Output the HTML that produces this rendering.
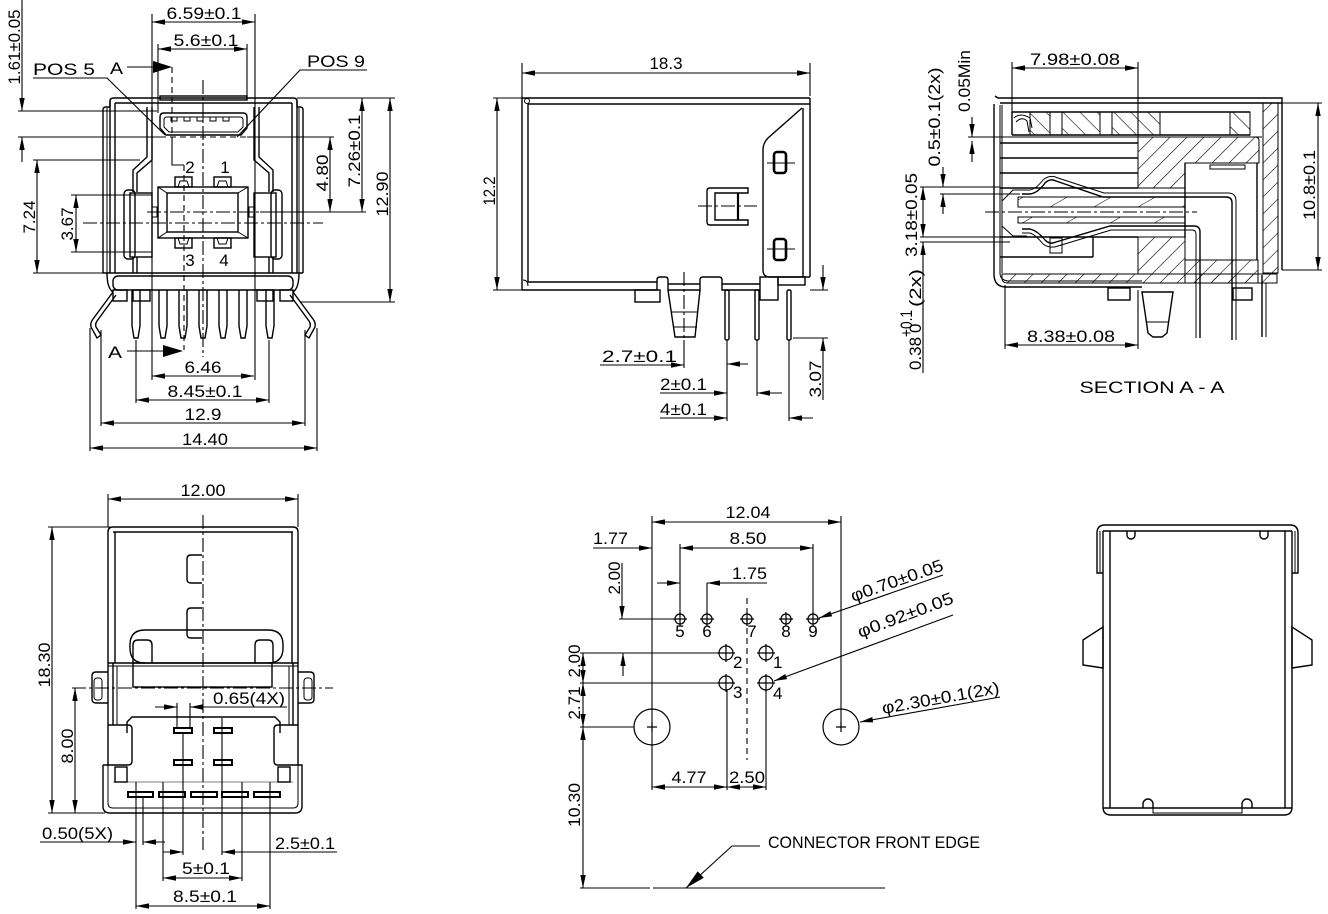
<!DOCTYPE html>
<html><head><meta charset="utf-8"><style>
html,body{margin:0;padding:0;background:#fff;}
svg{display:block;}
text{font-family:"Liberation Sans",Arial,sans-serif;fill:#000;stroke:none;font-size:17px;}
.dd{marker-start:url(#m);marker-end:url(#m);}
.de{marker-end:url(#m);}
.cl{stroke-dasharray:14 3 3 3;}
.ds{stroke-dasharray:6 4;}
.t{stroke-width:1.1;}
</style></head><body>
<svg width="1328" height="914" viewBox="0 0 1328 914" xmlns="http://www.w3.org/2000/svg">
<defs>
<marker id="m" viewBox="0 0 12 5" refX="12" refY="2.5" markerWidth="13" markerHeight="5.5" orient="auto-start-reverse" markerUnits="userSpaceOnUse"><path d="M0,0L12,2.5L0,5z" fill="#000" stroke="none"/></marker>
<marker id="mb" viewBox="0 0 20 9" refX="20" refY="4.5" markerWidth="20" markerHeight="9" orient="auto" markerUnits="userSpaceOnUse"><path d="M0,0L20,4.5L0,9z" fill="#000" stroke="none"/></marker>
<pattern id="hf" patternUnits="userSpaceOnUse" width="12" height="12" patternTransform="rotate(45)"><line x1="0" y1="0" x2="0" y2="12" stroke="#000" stroke-width="1.2"/></pattern>
<pattern id="hb" patternUnits="userSpaceOnUse" width="12" height="12" patternTransform="rotate(-45)"><line x1="0" y1="0" x2="0" y2="12" stroke="#000" stroke-width="1.2"/></pattern>
<pattern id="hs" patternUnits="userSpaceOnUse" width="22" height="22" patternTransform="rotate(60)"><line x1="0" y1="0" x2="0" y2="22" stroke="#000" stroke-width="1"/></pattern>
</defs>
<rect width="1328" height="914" fill="#fff"/>

<g fill="none" stroke="#000" stroke-width="1.4">

<!-- ================= VIEW 1 : FRONT ================= -->
<g class="t">
<line x1="152" y1="14" x2="152" y2="380"/>
<line x1="255" y1="14" x2="255" y2="380"/>
<line class="dd" x1="152" y1="22" x2="255" y2="22"/>
<line x1="158" y1="44" x2="158" y2="113"/>
<line x1="247" y1="44" x2="247" y2="100"/>
<line class="dd" x1="158" y1="49" x2="247" y2="49"/>
<polyline points="33,78 107,78 165,135"/>
<polyline points="367,70 300,70 237,137"/>
<line x1="127" y1="67" x2="155" y2="67"/>
<line class="ds" x1="172" y1="67" x2="172" y2="137"/>
<polyline points="172,137 172,165 184,165"/>
<line class="ds" x1="184" y1="165" x2="184" y2="350"/>
<line x1="22" y1="0" x2="22" y2="111" class="de"/>
<line x1="18" y1="111" x2="157" y2="111"/>
<line x1="18" y1="137" x2="160" y2="137"/>
<line class="ds" x1="160" y1="137" x2="247" y2="137"/>
<line x1="247" y1="137" x2="334" y2="137"/>
<line class="de" x1="22" y1="162" x2="22" y2="137"/>
<line x1="33" y1="160" x2="140" y2="160"/>
<line x1="33" y1="273" x2="103" y2="273"/>
<line class="dd" x1="37" y1="160" x2="37" y2="273"/>
<line x1="71" y1="195" x2="152" y2="195"/>
<line x1="71" y1="252" x2="152" y2="252"/>
<line class="dd" x1="76" y1="195" x2="76" y2="252"/>
<line class="cl" x1="83" y1="223" x2="323" y2="223"/>
<line class="cl" x1="147" y1="212" x2="260" y2="212"/>
<line x1="260" y1="212" x2="366" y2="212"/>
<line class="dd" x1="330" y1="137" x2="330" y2="212"/>
<line x1="297" y1="98" x2="395" y2="98"/>
<line class="dd" x1="362" y1="98" x2="362" y2="212"/>
<line x1="300" y1="302" x2="395" y2="302"/>
<line class="dd" x1="390" y1="98" x2="390" y2="302"/>
<line class="cl" x1="203" y1="80" x2="203" y2="357"/>
<line x1="127" y1="351" x2="165" y2="351"/>
<line x1="136" y1="340" x2="136" y2="403"/>
<line x1="269" y1="340" x2="269" y2="403"/>
<line x1="101" y1="330" x2="101" y2="426"/>
<line x1="305" y1="330" x2="305" y2="426"/>
<line x1="90" y1="328" x2="90" y2="451"/>
<line x1="317" y1="328" x2="317" y2="451"/>
<line class="dd" x1="152" y1="376" x2="254" y2="376"/>
<line class="dd" x1="136" y1="400" x2="269" y2="400"/>
<line class="dd" x1="101" y1="423" x2="305" y2="423"/>
<line class="dd" x1="90" y1="448" x2="317" y2="448"/>
</g>
<polygon points="153,61 172,67 153,73" fill="#000" stroke="none"/>
<polygon points="163,345 183,351 163,357" fill="#000" stroke="none"/>

<path d="M110,107 V101 Q110,98 114,98 H293 Q297,98 297,101 V107"/>
<line x1="115" y1="103" x2="292" y2="103"/>
<path d="M103,273 V110 Q103,107 106,107 H110"/>
<path d="M303,273 V110 Q303,107 300,107 H297"/>
<line x1="107" y1="108" x2="107" y2="273" stroke-width="1"/>
<line x1="299" y1="108" x2="299" y2="273" stroke-width="1"/>
<line x1="110" y1="101" x2="110" y2="273"/>
<line x1="115" y1="103" x2="115" y2="273"/>
<line x1="297" y1="101" x2="297" y2="273"/>
<line x1="292" y1="103" x2="292" y2="273"/>
<polyline points="147,107 147,157 133,170 133,192"/>
<polyline points="152,107 152,160 137,173 137,192"/>
<polyline points="259,107 259,157 273,170 273,192"/>
<polyline points="254,107 254,160 269,173 269,192"/>
<line x1="133" y1="257" x2="133" y2="273"/>
<line x1="137" y1="257" x2="137" y2="273"/>
<line x1="273" y1="257" x2="273" y2="273"/>
<line x1="269" y1="257" x2="269" y2="273"/>
<rect x="160" y="96" width="87" height="4"/>
<path d="M164,113 H243 Q247,113 247,117 V128 L241,135 H166 L160,128 V117 Q160,113 164,113 Z"/>
<path d="M167,117 H240 Q243,117 243,120 V127 L238,132 H169 L164,127 V120 Q164,117 167,117 Z" stroke-width="1"/>
<path d="M171,117 V121 H177 V117 M184,117 V121 H190 V117 M197,117 V121 H203 V117 M210,117 V121 H216 V117 M223,117 V121 H229 V117" stroke-width="1"/>
<rect x="158" y="187" width="90" height="51"/>
<rect x="167" y="193" width="71" height="39"/>
<path d="M158,187 L167,193 M248,187 L238,193 M158,238 L167,232 M248,238 L238,232" stroke-width="1"/>
<rect x="152" y="207" width="5" height="10" stroke-width="1"/>
<rect x="249" y="207" width="5" height="10" stroke-width="1"/>
<rect x="175" y="177" width="17" height="10"/>
<rect x="214" y="177" width="17" height="10"/>
<rect x="175" y="238" width="17" height="10"/>
<rect x="214" y="238" width="17" height="10"/>
<path d="M178,187 L180,181 H187 L189,187 M217,187 L219,181 H226 L228,187 M178,238 L180,244 H187 L189,238 M217,238 L219,244 H226 L228,238" stroke-width="1"/>
<rect x="124" y="190" width="11" height="69" rx="4"/>
<rect x="130" y="193" width="22" height="64"/>
<rect x="271" y="190" width="11" height="69" rx="4"/>
<rect x="254" y="193" width="22" height="64"/>
<line x1="103" y1="273" x2="303" y2="273"/>
<rect x="113" y="276" width="180" height="14" rx="5"/>
<path d="M107,273 Q107,288 113,292"/>
<path d="M299,273 Q299,288 293,292"/>
<rect x="113" y="290" width="14" height="11"/>
<rect x="133" y="290" width="17" height="11"/>
<rect x="257" y="290" width="16" height="11"/>
<rect x="280" y="290" width="13" height="11"/>
<path d="M132,290 V326 L134,338 H138 L140,326 V290"/>
<path d="M159,290 V326 L161,338 H165 L167,326 V290"/>
<path d="M179,290 V326 L181,338 H185 L187,326 V290"/>
<path d="M199,290 V326 L201,338 H205 L207,326 V290"/>
<path d="M219,290 V326 L221,338 H225 L227,326 V290"/>
<path d="M239,290 V326 L241,338 H245 L247,326 V290"/>
<path d="M266,290 V326 L268,338 H272 L274,326 V290"/>
<path d="M113,292 L93,319 Q90,323 91,327 L97,338 L101,335 L96,327 Q95,324 97,321 L116,295"/>
<path d="M293,292 L313,319 Q316,323 315,327 L309,338 L305,335 L310,327 Q311,324 309,321 L290,295"/>
<text x="204" y="19" text-anchor="middle" textLength="75" lengthAdjust="spacingAndGlyphs">6.59±0.1</text>
<text x="206" y="46" text-anchor="middle" textLength="65" lengthAdjust="spacingAndGlyphs">5.6±0.1</text>
<text x="33" y="75" textLength="62" lengthAdjust="spacingAndGlyphs">POS 5</text>
<text x="110" y="74" textLength="13" lengthAdjust="spacingAndGlyphs" font-size="19">A</text>
<text x="307" y="67" textLength="58" lengthAdjust="spacingAndGlyphs">POS 9</text>
<text transform="translate(20,47) rotate(-90)" text-anchor="middle" textLength="75" lengthAdjust="spacingAndGlyphs">1.61±0.05</text>
<text transform="translate(35,217) rotate(-90)" text-anchor="middle" textLength="33" lengthAdjust="spacingAndGlyphs">7.24</text>
<text transform="translate(73,224) rotate(-90)" text-anchor="middle" textLength="33" lengthAdjust="spacingAndGlyphs">3.67</text>
<text transform="translate(328,173) rotate(-90)" text-anchor="middle" textLength="37" lengthAdjust="spacingAndGlyphs">4.80</text>
<text transform="translate(360,151) rotate(-90)" text-anchor="middle" textLength="73" lengthAdjust="spacingAndGlyphs">7.26±0.1</text>
<text transform="translate(388,194) rotate(-90)" text-anchor="middle" textLength="45" lengthAdjust="spacingAndGlyphs">12.90</text>
<text x="190" y="173" text-anchor="middle" font-size="19">2</text>
<text x="225" y="173" text-anchor="middle" font-size="19">1</text>
<text x="190" y="266" text-anchor="middle" font-size="19">3</text>
<text x="224" y="266" text-anchor="middle" font-size="19">4</text>
<text x="108" y="358" textLength="14" lengthAdjust="spacingAndGlyphs" font-size="19">A</text>
<text x="203" y="373" text-anchor="middle" textLength="37" lengthAdjust="spacingAndGlyphs">6.46</text>
<text x="205" y="397" text-anchor="middle" textLength="75" lengthAdjust="spacingAndGlyphs">8.45±0.1</text>
<text x="203" y="420" text-anchor="middle" textLength="37" lengthAdjust="spacingAndGlyphs">12.9</text>
<text x="205" y="445" text-anchor="middle" textLength="46" lengthAdjust="spacingAndGlyphs">14.40</text>

<!-- ================= VIEW 2 : SIDE ================= -->
<g class="t">
<line x1="522" y1="63" x2="522" y2="98"/>
<line x1="810" y1="63" x2="810" y2="96"/>
<line class="dd" x1="522" y1="73" x2="810" y2="73"/>
<line x1="493" y1="98" x2="522" y2="98"/>
<line x1="493" y1="290" x2="528" y2="290"/>
<line class="dd" x1="497" y1="98" x2="497" y2="290"/>
<line class="cl" x1="684" y1="272" x2="684" y2="340"/>
<line x1="684" y1="340" x2="684" y2="368"/>
<line class="de" x1="600" y1="365" x2="684" y2="365"/>
<line class="de" x1="748" y1="364" x2="727" y2="364"/>
<line class="de" x1="660" y1="393" x2="727" y2="393"/>
<line class="de" x1="782" y1="393" x2="757" y2="393"/>
<line class="de" x1="660" y1="418" x2="727" y2="418"/>
<line class="de" x1="813" y1="418" x2="789" y2="418"/>
<line x1="727" y1="340" x2="727" y2="421"/>
<line x1="757" y1="340" x2="757" y2="396"/>
<line x1="789" y1="340" x2="789" y2="421"/>
<line class="de" x1="823" y1="265" x2="823" y2="290"/>
<line class="de" x1="823" y1="400" x2="823" y2="338"/>
<line x1="810" y1="290" x2="828" y2="290"/>
<line x1="793" y1="338" x2="828" y2="338"/>
<line class="cl" x1="698" y1="206" x2="757" y2="206"/>
</g>
<line x1="522" y1="98" x2="810" y2="98"/>
<line x1="528" y1="104" x2="810" y2="104"/>
<line x1="522" y1="98" x2="522" y2="290"/>
<line x1="528" y1="104" x2="528" y2="282"/>
<circle cx="527" cy="101" r="2.5" stroke-width="1"/>
<path d="M523,280 Q528,280 528,286" stroke-width="1"/>
<path d="M522,290 H657 V280 Q657,277 660,277 H665 Q668,277 668,280 V290 H700 V280 Q700,277 703,277 H719 Q722,277 722,280 V290 H760"/>
<line x1="528" y1="282" x2="657" y2="282"/>
<line x1="668" y1="284" x2="700" y2="284"/>
<line x1="722" y1="284" x2="760" y2="284"/>
<rect x="760" y="277" width="18" height="23"/>
<rect x="778" y="277" width="27" height="8"/>
<rect x="635" y="290" width="25" height="12"/>
<path d="M668,290 L675,337 H695 L700,290"/>
<line x1="671" y1="312" x2="698" y2="312" stroke-width="1"/>
<line x1="673" y1="327" x2="697" y2="327" stroke-width="1"/>
<rect x="725" y="290" width="4" height="50" rx="1.5"/>
<rect x="755" y="290" width="4" height="50" rx="1.5"/>
<rect x="787" y="290" width="4" height="50" rx="1.5"/>
<line x1="810" y1="98" x2="810" y2="277"/>
<line x1="803" y1="108" x2="803" y2="277"/>
<path d="M802,108 L768,138 Q763,143 763,150 V270 Q763,277 770,277 H810"/>
<rect x="774" y="152" width="12" height="21" rx="3" stroke-width="2.6"/>
<line x1="767" y1="163" x2="795" y2="163" stroke-width="1"/>
<rect x="774" y="239" width="12" height="21" rx="3" stroke-width="2.6"/>
<line x1="767" y1="249" x2="795" y2="249" stroke-width="1"/>
<path d="M748,188 H710 Q707,188 707,191 V222 Q707,225 710,225 H748 V220 H715 V193 H748 Z"/>
<line x1="738" y1="193" x2="738" y2="220" stroke-width="2.2"/>
<text x="666" y="69" text-anchor="middle" textLength="33" lengthAdjust="spacingAndGlyphs">18.3</text>
<text transform="translate(495,191) rotate(-90)" text-anchor="middle" textLength="29" lengthAdjust="spacingAndGlyphs">12.2</text>
<text x="602" y="362" textLength="75" lengthAdjust="spacingAndGlyphs">2.7±0.1</text>
<text x="660" y="390" textLength="47" lengthAdjust="spacingAndGlyphs">2±0.1</text>
<text x="660" y="415" textLength="47" lengthAdjust="spacingAndGlyphs">4±0.1</text>
<text transform="translate(821,379) rotate(-90)" text-anchor="middle" textLength="37" lengthAdjust="spacingAndGlyphs">3.07</text>

<!-- ================= VIEW 3 : SECTION A-A ================= -->
<path d="M1030,112 H1050 V135 H1030 Z M1062,112 H1100 V135 H1062 Z M1112,112 H1160 V135 H1112 Z M1230,112 H1250 V135 H1230 Z" fill="url(#hb)" stroke-width="1"/>
<path d="M1138,137 H1255 Q1259,137 1259,141 V163 H1185 V188 H1138 Z" fill="url(#hf)" stroke-width="1"/>
<rect x="1138" y="237" width="47" height="37" fill="url(#hf)" stroke-width="1"/>
<rect x="1185" y="260" width="73" height="23" fill="url(#hf)" stroke-width="1"/>
<path d="M1002,274 H1277 V283 H1008 Q1002,283 1002,278 Z" fill="url(#hf)" stroke-width="1"/>
<rect x="1263" y="103" width="15" height="170" fill="url(#hf)" stroke-width="1"/>
<rect x="1018" y="197" width="167" height="10" fill="url(#hs)" stroke-width="1"/>
<rect x="1018" y="217" width="167" height="6" fill="url(#hs)" stroke-width="1"/>
<line class="cl" x1="985" y1="212" x2="1197" y2="212" stroke-width="1"/>
<path d="M995,96 L998,98 H1282 V270"/>
<line x1="1000" y1="103" x2="1282" y2="103"/>
<path d="M994,104 V274 Q994,287 1006,287 H1142"/>
<path d="M1000,105 V273 Q1000,280 1008,281 H1142" stroke-width="1"/>
<line x1="1002" y1="105" x2="1002" y2="273" stroke-width="1"/>
<line x1="1012" y1="112" x2="1250" y2="112"/>
<line x1="1012" y1="135" x2="1250" y2="135"/>
<line x1="1012" y1="112" x2="1012" y2="135"/>
<path d="M1014,118 Q1020,112 1030,118 L1032,128 M1016,122 Q1022,116 1027,121 L1029,132" stroke-width="1"/>
<line x1="1000" y1="143" x2="1138" y2="143"/>
<line x1="1000" y1="158" x2="1138" y2="158"/>
<line x1="1000" y1="173" x2="1138" y2="173"/>
<line x1="1000" y1="188" x2="1138" y2="188"/>
<path d="M1185,163 V238 M1257,163 V260"/>
<rect x="1210" y="165" width="35" height="4" stroke-width="1"/>
<line x1="1000" y1="237" x2="1138" y2="237"/>
<line x1="1000" y1="257" x2="1093" y2="257"/>
<line x1="1093" y1="237" x2="1093" y2="257"/>
<rect x="1050" y="238" width="12" height="15" stroke-width="1"/>
<polyline points="1002,201 1013,190 1027,190" stroke-width="1"/>
<polyline points="1002,226 1013,236 1027,236" stroke-width="1"/>
<path d="M1022,194 H1030 Q1038,193 1045,183 Q1050,178 1056,181 L1103,197 H1226 Q1232,197 1232,203 V340"/>
<path d="M1022,190 H1030 Q1036,189 1043,180 Q1050,174 1058,178 L1104,193 H1228 Q1236,193 1236,201 V340" stroke-width="1"/>
<path d="M1022,229 H1030 Q1038,231 1045,240 Q1050,245 1056,242 L1110,226 H1194 Q1200,226 1200,232 V338"/>
<path d="M1022,233 H1030 Q1036,235 1043,244 Q1050,249 1058,246 L1111,230 H1192 Q1196,230 1196,234 V338" stroke-width="1"/>
<line x1="1262" y1="275" x2="1262" y2="337"/>
<line x1="1266" y1="283" x2="1266" y2="337" stroke-width="1"/>
<rect x="1108" y="288" width="22" height="12"/>
<path d="M1142,292 H1173 L1167,333 L1162,337 H1153 L1148,333 Z"/>
<line x1="1146" y1="322" x2="1169" y2="322" stroke-width="1"/>
<rect x="1233" y="288" width="19" height="12"/>
<g class="t">
<line x1="1012" y1="62" x2="1012" y2="113"/>
<line x1="1138" y1="62" x2="1138" y2="137"/>
<line class="dd" x1="1012" y1="68" x2="1138" y2="68"/>
<line class="de" x1="972" y1="117" x2="972" y2="137"/>
<line class="de" x1="972" y1="162" x2="972" y2="141"/>
<line x1="968" y1="137" x2="1262" y2="137"/>
<line class="de" x1="943" y1="167" x2="943" y2="187"/>
<line class="de" x1="943" y1="214" x2="943" y2="194"/>
<line x1="920" y1="187" x2="1000" y2="187"/>
<line x1="940" y1="194" x2="1020" y2="194"/>
<line class="dd" x1="923" y1="187" x2="923" y2="237"/>
<line x1="920" y1="237" x2="1010" y2="237"/>
<line x1="920" y1="242" x2="1010" y2="242"/>
<line class="de" x1="923" y1="373" x2="923" y2="242"/>
<line x1="1282" y1="103" x2="1322" y2="103"/>
<line x1="1282" y1="270" x2="1322" y2="270"/>
<line class="dd" x1="1318" y1="103" x2="1318" y2="270"/>
<line x1="1005" y1="285" x2="1005" y2="349"/>
<line x1="1138" y1="290" x2="1138" y2="349"/>
<line class="dd" x1="1005" y1="345" x2="1138" y2="345"/>
</g>
<text x="1075" y="65" text-anchor="middle" textLength="90" lengthAdjust="spacingAndGlyphs">7.98±0.08</text>
<text transform="translate(970,81) rotate(-90)" text-anchor="middle" textLength="62" lengthAdjust="spacingAndGlyphs">0.05Min</text>
<text transform="translate(940,117) rotate(-90)" text-anchor="middle" textLength="99" lengthAdjust="spacingAndGlyphs">0.5±0.1(2x)</text>
<text transform="translate(917,215) rotate(-90)" text-anchor="middle" textLength="84" lengthAdjust="spacingAndGlyphs">3.18±0.05</text>
<g transform="translate(921,370) rotate(-90)">
<text x="0" y="0" textLength="33" lengthAdjust="spacingAndGlyphs">0.38</text>
<text x="33" y="-9" font-size="13" textLength="27" lengthAdjust="spacingAndGlyphs">+0.1</text>
<text x="37" y="0" font-size="13">0</text>
<text x="63" y="0" textLength="38" lengthAdjust="spacingAndGlyphs">(2x)</text>
</g>
<text transform="translate(1315,185) rotate(-90)" text-anchor="middle" textLength="70" lengthAdjust="spacingAndGlyphs">10.8±0.1</text>
<text x="1071" y="342" text-anchor="middle" textLength="88" lengthAdjust="spacingAndGlyphs">8.38±0.08</text>
<text x="1152" y="393" text-anchor="middle" font-size="20" textLength="145" lengthAdjust="spacingAndGlyphs">SECTION  A - A</text>

<!-- ================= VIEW 4 : TOP ================= -->
<g class="t">
<line x1="108" y1="494" x2="108" y2="527"/>
<line x1="298" y1="494" x2="298" y2="527"/>
<line class="dd" x1="108" y1="499" x2="298" y2="499"/>
<line x1="48" y1="527" x2="110" y2="527"/>
<line x1="48" y1="813" x2="105" y2="813"/>
<line class="dd" x1="52" y1="527" x2="52" y2="813"/>
<line class="cl" x1="72" y1="688" x2="333" y2="688"/>
<line class="dd" x1="75" y1="688" x2="75" y2="813"/>
<line class="cl" x1="203" y1="515" x2="203" y2="850"/>
<line x1="177" y1="703" x2="177" y2="728"/>
<line x1="190" y1="703" x2="190" y2="728"/>
<line class="de" x1="287" y1="707" x2="190" y2="707"/>
<line class="de" x1="155" y1="707" x2="177" y2="707"/>
<line x1="183" y1="733" x2="183" y2="855"/>
<line x1="222" y1="718" x2="222" y2="855"/>
<line x1="163" y1="782" x2="163" y2="881"/>
<line x1="242" y1="782" x2="242" y2="881"/>
<line x1="136" y1="782" x2="136" y2="909"/>
<line x1="270" y1="782" x2="270" y2="909"/>
<line x1="143" y1="797" x2="143" y2="845"/>
<line class="de" x1="40" y1="842" x2="136" y2="842"/>
<line class="de" x1="165" y1="842" x2="143" y2="842"/>
<line class="de" x1="337" y1="852" x2="222" y2="852"/>
<line class="de" x1="163" y1="852" x2="183" y2="852"/>
<line class="dd" x1="163" y1="878" x2="242" y2="878"/>
<line class="dd" x1="136" y1="906" x2="270" y2="906"/>
</g>
<path d="M108,663 V532 Q108,527 113,527 H293 Q298,527 298,532 V663"/>
<line x1="113" y1="532" x2="293" y2="532"/>
<line x1="115" y1="532" x2="115" y2="663"/>
<line x1="292" y1="532" x2="292" y2="663"/>
<path d="M202,555 H191 Q187,555 187,559 V579 Q187,583 191,583 H202"/>
<path d="M202,608 H191 Q187,608 187,612 V634 Q187,638 191,638 H202"/>
<path d="M145,663 Q130,663 130,648 V645 Q130,630 145,630 H268 Q283,630 283,645 V648 Q283,663 268,663"/>
<path d="M133,663 V645 Q133,640 138,640 H147 Q152,640 152,645 V663"/>
<path d="M255,663 V645 Q255,640 260,640 H268 Q273,640 273,645 V663"/>
<line x1="108" y1="663" x2="298" y2="663"/>
<line x1="108" y1="666" x2="298" y2="666" stroke-width="1"/>
<rect x="133" y="663" width="139" height="24"/>
<line x1="108" y1="663" x2="108" y2="725"/>
<line x1="113" y1="663" x2="113" y2="725"/>
<line x1="117" y1="666" x2="117" y2="725" stroke-width="1"/>
<line x1="298" y1="663" x2="298" y2="725"/>
<line x1="293" y1="663" x2="293" y2="725"/>
<line x1="289" y1="666" x2="289" y2="725" stroke-width="1"/>
<path d="M108,672 H96 Q92,672 92,676 V699 Q92,703 96,703 H108"/>
<rect x="94" y="678" width="8" height="22" rx="3" stroke-width="1"/>
<path d="M298,672 H310 Q314,672 314,676 V699 Q314,703 310,703 H298"/>
<rect x="304" y="678" width="8" height="22" rx="3" stroke-width="1"/>
<path d="M127,733 V722 L132,717 H275 L280,722 V733"/>
<path d="M108,725 H128 Q132,725 132,729 V761 Q132,765 128,765 H108"/>
<path d="M298,725 H278 Q274,725 274,729 V761 Q274,765 278,765 H298"/>
<path d="M103,765 V806 Q103,813 110,813 H295 Q302,813 302,806 V765 H298"/>
<path d="M103,765 H108 V725"/>
<path d="M298,725 V765"/>
<path d="M108,765 V803 Q108,808 113,808 H293 Q298,808 298,803 V765" stroke-width="1"/>
<rect x="115" y="767" width="12" height="15"/>
<rect x="278" y="767" width="12" height="15"/>
<line x1="113" y1="782" x2="293" y2="782" stroke-width="0.6"/>
<g stroke-width="2">
<rect x="174" y="728" width="18" height="5"/>
<rect x="214" y="728" width="18" height="5"/>
<rect x="174" y="760" width="18" height="5"/>
<rect x="214" y="760" width="18" height="5"/>
<rect x="128" y="792" width="25" height="5"/>
<rect x="159" y="792" width="26" height="5"/>
<rect x="191" y="792" width="26" height="5"/>
<rect x="222" y="792" width="26" height="5"/>
<rect x="254" y="792" width="26" height="5"/>
</g>
<text x="203" y="496" text-anchor="middle" textLength="45" lengthAdjust="spacingAndGlyphs">12.00</text>
<text transform="translate(50,665) rotate(-90)" text-anchor="middle" textLength="45" lengthAdjust="spacingAndGlyphs">18.30</text>
<text transform="translate(73,746) rotate(-90)" text-anchor="middle" textLength="35" lengthAdjust="spacingAndGlyphs">8.00</text>
<text x="213" y="704" textLength="72" lengthAdjust="spacingAndGlyphs">0.65(4X)</text>
<text x="42" y="839" textLength="71" lengthAdjust="spacingAndGlyphs">0.50(5X)</text>
<text x="275" y="849" textLength="60" lengthAdjust="spacingAndGlyphs">2.5±0.1</text>
<text x="206" y="874" text-anchor="middle" textLength="48" lengthAdjust="spacingAndGlyphs">5±0.1</text>
<text x="205" y="902" text-anchor="middle" textLength="64" lengthAdjust="spacingAndGlyphs">8.5±0.1</text>

<!-- ================= VIEW 5 : PCB LAYOUT ================= -->
<g class="t">
<line x1="652" y1="516" x2="652" y2="790"/>
<line x1="841" y1="516" x2="841" y2="727"/>
<line class="dd" x1="652" y1="522" x2="841" y2="522"/>
<line class="de" x1="593" y1="548" x2="652" y2="548"/>
<line x1="680" y1="544" x2="680" y2="614"/>
<line x1="813" y1="544" x2="813" y2="614"/>
<line class="dd" x1="680" y1="548" x2="813" y2="548"/>
<line x1="707" y1="583" x2="707" y2="614"/>
<line class="de" x1="767" y1="583" x2="707" y2="583"/>
<line class="de" x1="657" y1="583" x2="680" y2="583"/>
<line class="de" x1="622" y1="563" x2="622" y2="619"/>
<line x1="619" y1="619" x2="675" y2="619"/>
<line class="ds" x1="747" y1="598" x2="747" y2="760"/>
<line x1="580" y1="653" x2="719" y2="653"/>
<line x1="580" y1="683" x2="719" y2="683"/>
<line x1="580" y1="727" x2="634" y2="727"/>
<line class="dd" x1="583" y1="653" x2="583" y2="683"/>
<line class="dd" x1="583" y1="683" x2="583" y2="727"/>
<line class="dd" x1="583" y1="727" x2="583" y2="888"/>
<line class="de" x1="623" y1="676" x2="623" y2="653"/>
<line x1="727" y1="690" x2="727" y2="790"/>
<line x1="766" y1="690" x2="766" y2="790"/>
<line class="dd" x1="652" y1="787" x2="727" y2="787"/>
<line class="dd" x1="727" y1="787" x2="766" y2="787"/>
<line x1="580" y1="888" x2="650" y2="888"/>
<line x1="653" y1="888" x2="885" y2="888"/>
<polyline points="760,846 732,846 686,888" style="marker-end:url(#mb)"/>
<line class="de" x1="943" y1="575" x2="819" y2="618"/>
<line class="de" x1="953" y1="615" x2="774" y2="681"/>
<line class="de" x1="1000" y1="697" x2="860" y2="722"/>
</g>
<g stroke-width="1.2">
<circle cx="680" cy="619" r="5"/><path d="M673,619 H687 M680,612 V626"/>
<circle cx="707" cy="619" r="5"/><path d="M700,619 H714 M707,612 V626"/>
<circle cx="747" cy="619" r="5"/><path d="M740,619 H754 M747,612 V626"/>
<circle cx="786" cy="619" r="5"/><path d="M779,619 H793 M786,612 V626"/>
<circle cx="813" cy="619" r="5"/><path d="M806,619 H820 M813,612 V626"/>
<circle cx="726" cy="653" r="7"/><path d="M717,653 H735 M726,644 V662"/>
<circle cx="766" cy="653" r="7"/><path d="M757,653 H775 M766,644 V662"/>
<circle cx="726" cy="683" r="7"/><path d="M717,683 H735 M726,674 V692"/>
<circle cx="766" cy="683" r="7"/><path d="M757,683 H775 M766,674 V692"/>
<circle cx="652" cy="727" r="18"/><path d="M647,727 H657 M652,722 V732"/>
<circle cx="841" cy="727" r="18"/><path d="M836,727 H846 M841,722 V732"/>
</g>
<g font-size="12">
<text x="680" y="637" text-anchor="middle">5</text>
<text x="707" y="637" text-anchor="middle">6</text>
<text x="752" y="637" text-anchor="middle">7</text>
<text x="786" y="637" text-anchor="middle">8</text>
<text x="813" y="637" text-anchor="middle">9</text>
<text x="733" y="668">2</text>
<text x="773" y="668">1</text>
<text x="733" y="698">3</text>
<text x="773" y="699">4</text>
</g>
<text x="748" y="518" text-anchor="middle" textLength="45" lengthAdjust="spacingAndGlyphs">12.04</text>
<text x="593" y="544" textLength="35" lengthAdjust="spacingAndGlyphs">1.77</text>
<text x="748" y="544" text-anchor="middle" textLength="37" lengthAdjust="spacingAndGlyphs">8.50</text>
<text x="732" y="579" textLength="35" lengthAdjust="spacingAndGlyphs">1.75</text>
<text transform="translate(620,578) rotate(-90)" text-anchor="middle" textLength="33" lengthAdjust="spacingAndGlyphs">2.00</text>
<text transform="translate(580,661) rotate(-90)" text-anchor="middle" textLength="33" lengthAdjust="spacingAndGlyphs">2.00</text>
<text transform="translate(580,703) rotate(-90)" text-anchor="middle" textLength="33" lengthAdjust="spacingAndGlyphs">2.71</text>
<text transform="translate(580,805) rotate(-90)" text-anchor="middle" textLength="44" lengthAdjust="spacingAndGlyphs">10.30</text>
<text x="689" y="783" text-anchor="middle" textLength="35" lengthAdjust="spacingAndGlyphs">4.77</text>
<text x="747" y="783" text-anchor="middle" textLength="36" lengthAdjust="spacingAndGlyphs">2.50</text>
<text transform="translate(853,602) rotate(-19.3)" textLength="97" lengthAdjust="spacingAndGlyphs">φ0.70±0.05</text>
<text transform="translate(860,638) rotate(-20.4)" textLength="101" lengthAdjust="spacingAndGlyphs">φ0.92±0.05</text>
<text transform="translate(883,714) rotate(-10.1)" textLength="119" lengthAdjust="spacingAndGlyphs">φ2.30±0.1(2x)</text>
<text x="768" y="848" font-size="16" textLength="212" lengthAdjust="spacingAndGlyphs">CONNECTOR FRONT EDGE</text>

<!-- ================= VIEW 6 : REAR ================= -->
<path d="M1103,573 H1097 V533 Q1097,525 1105,525 H1290 Q1298,525 1298,533 V573 H1292"/>
<path d="M1103,531 V807 Q1103,815 1111,815 H1284 Q1292,815 1292,807 V531"/>
<line x1="1100" y1="531" x2="1100" y2="573" stroke-width="1"/>
<line x1="1295" y1="531" x2="1295" y2="573" stroke-width="1"/>
<line x1="1103" y1="531" x2="1292" y2="531"/>
<line x1="1110" y1="531" x2="1110" y2="808"/>
<line x1="1285" y1="531" x2="1285" y2="808"/>
<line x1="1103" y1="808" x2="1292" y2="808"/>
<path d="M1127,531 V535 A4,4 0 0 0 1135,535 V531"/>
<path d="M1260,531 V535 A4,4 0 0 0 1268,535 V531"/>
<path d="M1143,808 V804 A5,5 0 0 1 1153,804 V808"/>
<path d="M1242,808 V804 A5,5 0 0 1 1252,804 V808"/>
<rect x="1153" y="808" width="89" height="5" stroke-width="1"/>
<polygon points="1083,640 1103,627 1103,668 1083,665"/>
<polygon points="1312,640 1292,627 1292,668 1312,665"/>
</g>
</svg>
</body></html>
